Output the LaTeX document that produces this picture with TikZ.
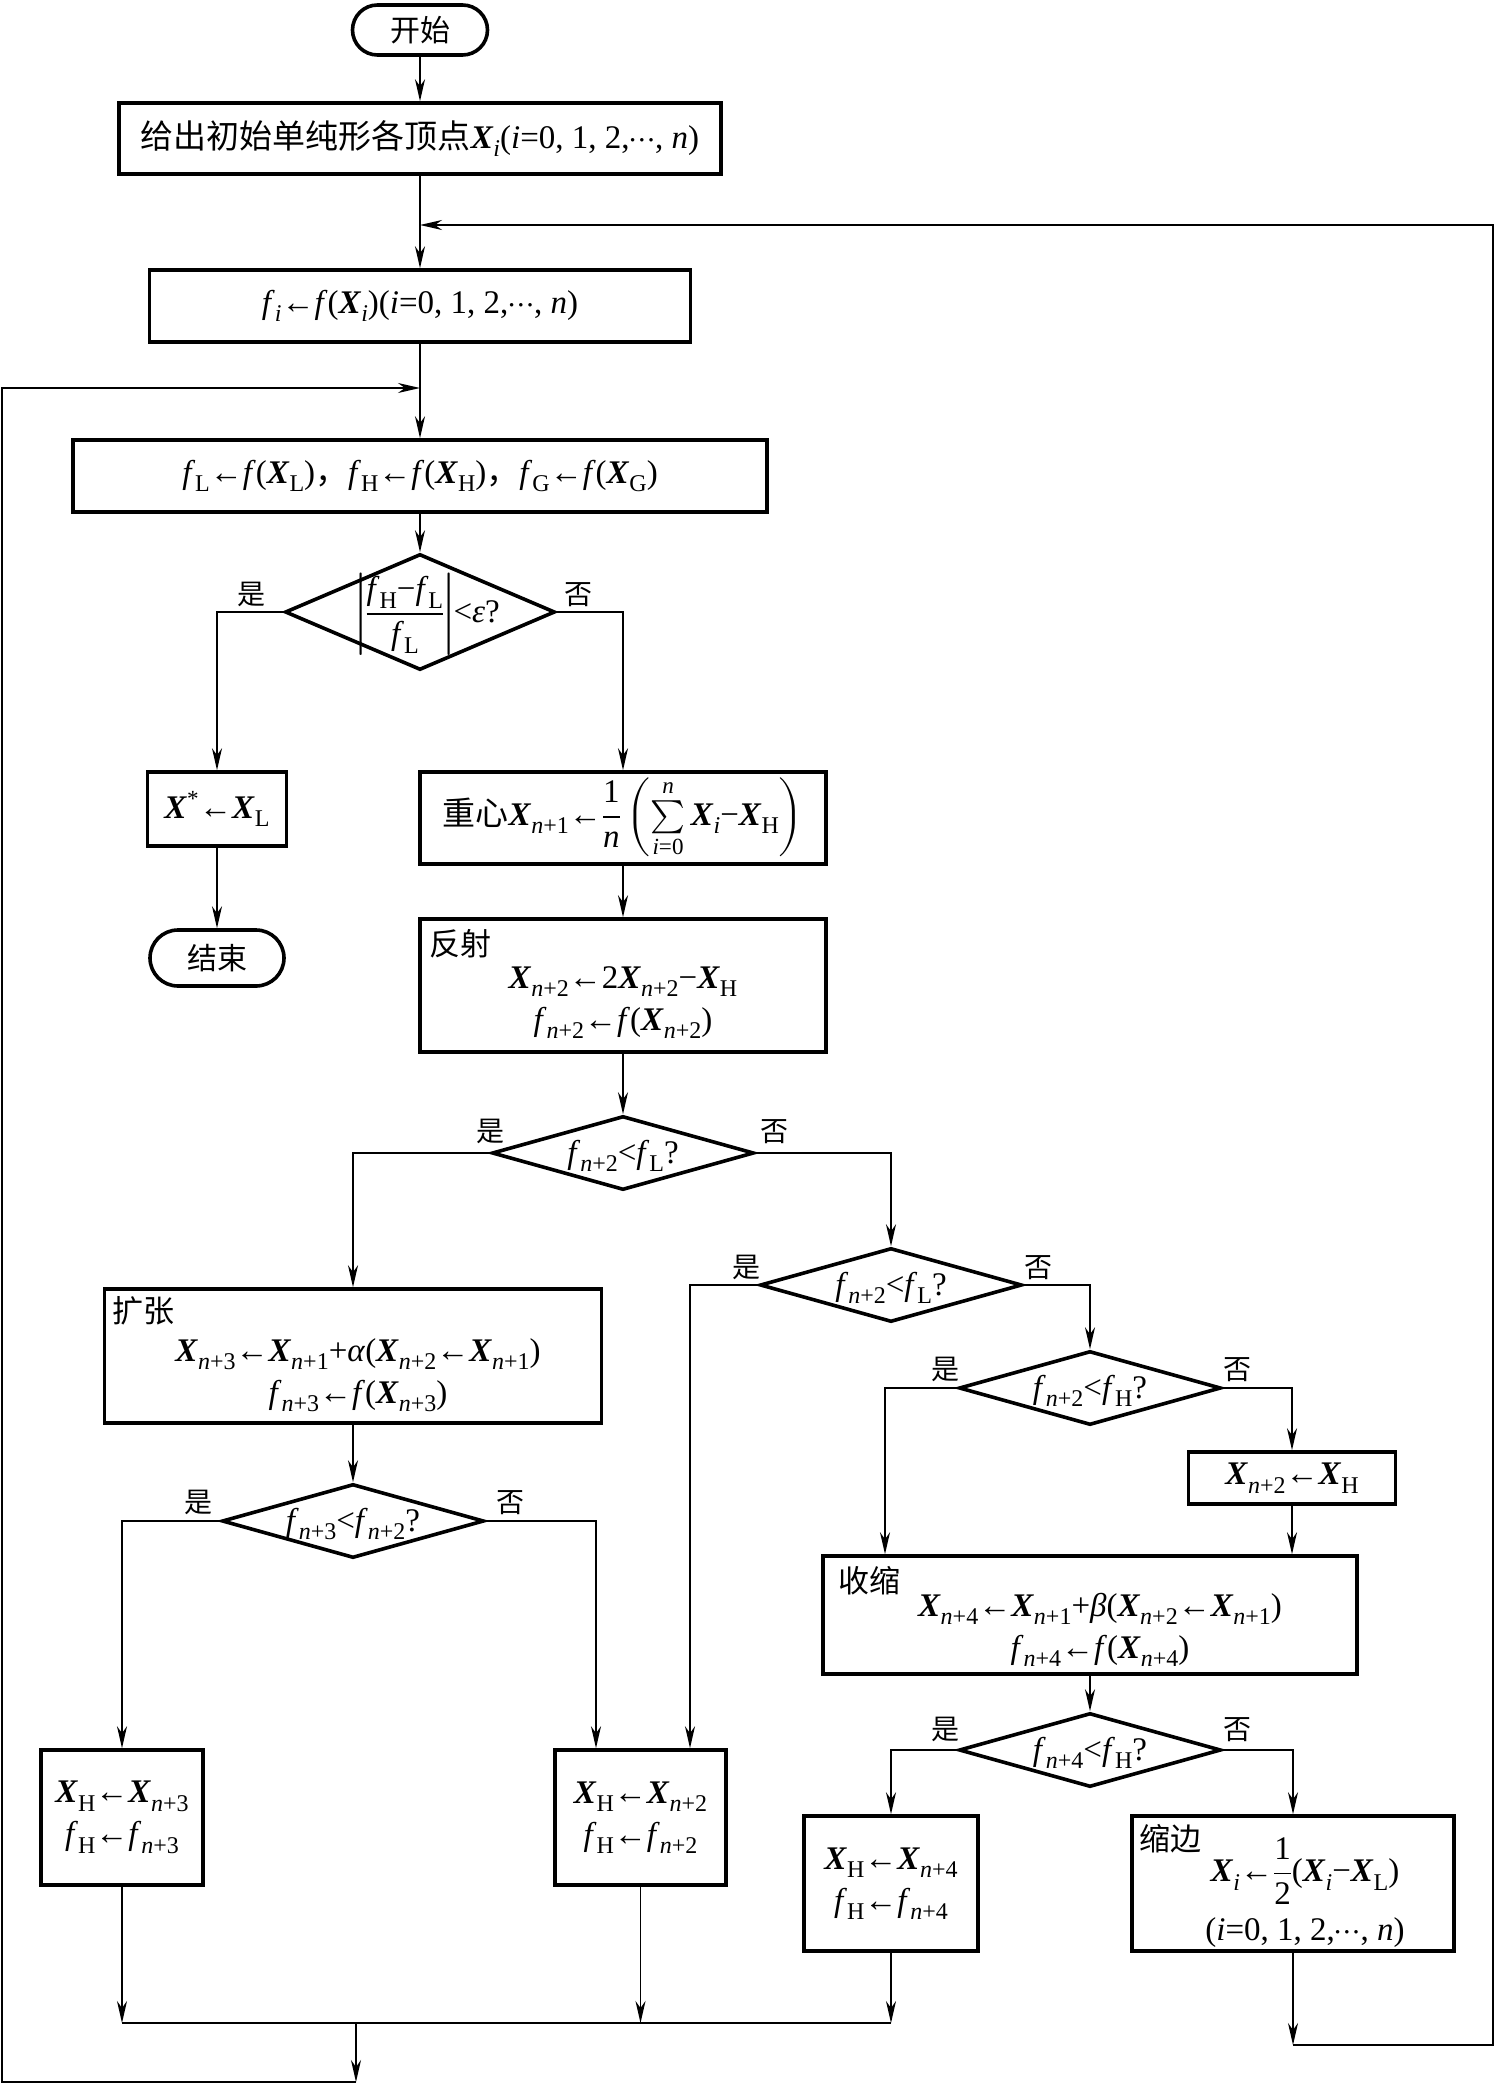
\documentclass[tikz,border=0pt]{standalone}
\usepackage{amsmath}
\usepackage{unicode-math}
\setmainfont{Liberation Serif}
\setmathfont{Latin Modern Math}
\newfontfamily\cjk{Noto Sans CJK SC}
\usetikzlibrary{arrows.meta,shapes.geometric,calc}
\newcommand{\Xb}{\textbf{\textit{X}}}
\newcommand{\vf}{\textit{f}}
\newcommand{\vi}{\textit{i}}
\newcommand{\vn}{\textit{n}}
\newcommand{\sbs}[1]{\raisebox{-0.26em}{\fontsize{24}{24}\selectfont #1}}
\newcommand{\np}[1]{\textit{n}+#1}
\newcommand{\la}{←}
\newcommand{\fs}{\fontsize{33}{42}\selectfont}
\begin{document}
\begin{tikzpicture}[x=1pt,y=-1pt,
  every node/.style={inner sep=0pt, font=\fs},
  box/.style={draw, line width=3.6pt},
  term/.style={draw, line width=3.6pt, rounded corners=25pt},
  dia/.style={draw, diamond, line width=3.6pt, minimum width=262pt, minimum height=74pt},
  lab/.style={font=\cjk\fontsize{28}{30}\selectfont},
  ttl/.style={font=\cjk\fontsize{31}{34}\selectfont, anchor=base west},
  ml/.style={align=center},
  line/.style={line width=1.8pt},
  conn/.style={line width=1.8pt, -{Stealth[length=22pt,width=10pt,inset=7pt]}}]
\useasboundingbox (0,0) rectangle (1494,2084);

% nodes
\node[term, minimum width=135pt, minimum height=50pt] (start) at (420,30) {\cjk\fontsize{30}{32}\selectfont 开始};
\node[box, minimum width=602pt, minimum height=71pt] (init) at (420,138.5)
  {{\cjk 给出初始单纯形各顶点}\Xb\sbs{\vi}(\vi=0, 1, 2,$\cdots$, \vn)};
\node[box, minimum width=541pt, minimum height=72pt] (fi) at (420,306)
  {\vf\sbs{\vi}\la\vf(\Xb\sbs{\vi})(\vi=0, 1, 2,$\cdots$, \vn)};
\node[box, minimum width=694pt, minimum height=72pt] (fl) at (420,476)
  {\vf\sbs{L}\la\vf(\Xb\sbs{L}){\cjk ，}\vf\sbs{H}\la\vf(\Xb\sbs{H}){\cjk ，}\vf\sbs{G}\la\vf(\Xb\sbs{G})};
\node[dia, minimum width=270pt, minimum height=116pt] (d1) at (420,612) {};
\node (d1t) at (428,614) {$\left|\dfrac{\text{\vf\sbs{H}−\vf\sbs{L}}}{\text{\vf\sbs{L}}}\right|$<\textit{ε}?};
\node[box, minimum width=139pt, minimum height=74pt] (xstar) at (217,809)
  {\Xb\textsuperscript{*}\la\Xb\sbs{L}};
\node[term, minimum width=134pt, minimum height=56pt, rounded corners=28pt] (stop) at (217,958)
  {\cjk\fontsize{30}{32}\selectfont 结束};
\node[box, minimum width=406pt, minimum height=92pt] (cen) at (623,818)
  {{\cjk 重心}\Xb\sbs{\np{1}}\la$\dfrac{\text{1}}{\text{\vn}}\left(\textstyle\sum\limits_{\text{\vi=0}}^{\text{\vn}}\text{\Xb\sbs{\vi}−\Xb\sbs{H}}\right)$};
\node[box, minimum width=406pt, minimum height=133pt] (refl) at (623,985.5) {};
\node[ttl] (reflt) at ($(refl.north west)+(11,38)$) {反射};
\node[ml] (reflf) at ($(refl.center)+(0,17)$)
  {\Xb\sbs{\np{2}}\la2\Xb\sbs{\np{2}}−\Xb\sbs{H}\\ \vf\sbs{\np{2}}\la\vf(\Xb\sbs{\np{2}})};
\node[dia] (d2) at (623,1153) {};
\node (d2t) at (623,1156) {\vf\sbs{\np{2}}<\vf\sbs{L}?};
\node[box, minimum width=497pt, minimum height=134pt] (expd) at (353,1356) {};
\node[ttl] (expdt) at ($(expd.north west)+(10,35)$) {扩张};
\node[ml] (expdf) at ($(expd.center)+(5,19)$)
  {\Xb\sbs{\np{3}}\la\Xb\sbs{\np{1}}+\textit{α}(\Xb\sbs{\np{2}}\la\Xb\sbs{\np{1}})\\ \vf\sbs{\np{3}}\la\vf(\Xb\sbs{\np{3}})};
\node[dia] (d6) at (353,1521) {};
\node (d6t) at (353,1524) {\vf\sbs{\np{3}}<\vf\sbs{\np{2}}?};
\node[dia] (d3) at (891,1285) {};
\node (d3t) at (891,1288) {\vf\sbs{\np{2}}<\vf\sbs{L}?};
\node[dia] (d4) at (1090,1388) {};
\node (d4t) at (1090,1391) {\vf\sbs{\np{2}}<\vf\sbs{H}?};
\node[box, minimum width=207pt, minimum height=52pt] (xh) at (1292,1478)
  {\Xb\sbs{\np{2}}\la\Xb\sbs{H}};
\node[box, minimum width=534pt, minimum height=118pt] (shr) at (1090,1615) {};
\node[ttl] (shrt) at ($(shr.north west)+(17,38)$) {收缩};
\node[ml] (shrf) at ($(shr.center)+(10,15)$)
  {\Xb\sbs{\np{4}}\la\Xb\sbs{\np{1}}+\textit{β}(\Xb\sbs{\np{2}}\la\Xb\sbs{\np{1}})\\ \vf\sbs{\np{4}}\la\vf(\Xb\sbs{\np{4}})};
\node[dia] (d5) at (1090,1750) {};
\node (d5t) at (1090,1753) {\vf\sbs{\np{4}}<\vf\sbs{H}?};
\node[box, minimum width=162pt, minimum height=135pt] (hn3) at (122,1817.5) {};
\node[ml] (hn3f) at (hn3.center) {\Xb\sbs{H}\la\Xb\sbs{\np{3}}\\ \vf\sbs{H}\la\vf\sbs{\np{3}}};
\node[box, minimum width=171pt, minimum height=135pt] (hn2) at (640.5,1817.5) {};
\node[ml] (hn2f) at (hn2.center) {\Xb\sbs{H}\la\Xb\sbs{\np{2}}\\ \vf\sbs{H}\la\vf\sbs{\np{2}}};
\node[box, minimum width=174pt, minimum height=135pt] (hn4) at (891,1883.5) {};
\node[ml] (hn4f) at (hn4.center) {\Xb\sbs{H}\la\Xb\sbs{\np{4}}\\ \vf\sbs{H}\la\vf\sbs{\np{4}}};
\node[box, minimum width=322pt, minimum height=135pt] (shk) at (1293,1883.5) {};
\node[ttl] (shkt) at ($(shk.north west)+(9,36)$) {缩边};
\node[ml] (shkf) at ($(shk.center)+(12,9)$)
  {\Xb\sbs{\vi}\la$\dfrac{\text{1}}{\text{2}}$(\Xb\sbs{\vi}−\Xb\sbs{L})\\[12pt] (\vi=0, 1, 2,$\cdots$, \vn)};

% yes / no labels
\node[lab, anchor=south east] (y1) at ($(d1.west)+(-18,-5)$) {是};
\node[lab, anchor=south west] (n1) at ($(d1.east)+(7,-5)$) {否};
\node[lab, anchor=south] (y2) at ($(d2.west)+(0,-9)$) {是};
\node[lab, anchor=south west] (n2) at ($(d2.east)+(4,-9)$) {否};
\node[lab, anchor=south east] (y3) at ($(d3.west)+(2,-5)$) {是};
\node[lab, anchor=south west] (n3) at ($(d3.east)+(0,-5)$) {否};
\node[lab, anchor=south east] (y4) at ($(d4.west)+(2,-6)$) {是};
\node[lab, anchor=south west] (n4) at ($(d4.east)+(0,-6)$) {否};
\node[lab, anchor=south east] (y5) at ($(d5.west)+(2,-8)$) {是};
\node[lab, anchor=south west] (n5) at ($(d5.east)+(0,-8)$) {否};
\node[lab, anchor=south east] (y6) at ($(d6.west)+(-8,-6)$) {是};
\node[lab, anchor=south west] (n6) at ($(d6.east)+(10,-6)$) {否};

% coordinates
\coordinate (j1) at (420,225);
\coordinate (j2) at (420,388);
\coordinate (p596) at (596,0);
\coordinate (p690) at (690,0);
\coordinate (p885) at (885,0);
\coordinate (mL) at (122,2023);
\coordinate (mR) at (891,2023);
\coordinate (mD) at (356,2023);
\coordinate (bot) at (356,2082);
\coordinate (bl) at (2,2082);
\coordinate (tl) at (2,388);
\coordinate (rb) at (1293,2045);
\coordinate (rr) at (1493,2045);
\coordinate (rt) at (1493,225);

% connectors
\draw[conn] (start.south) -- (init.north);
\draw[conn] (init.south) -- (fi.north);
\draw[conn] (fi.south) -- (fl.north);
\draw[conn] (fl.south) -- (d1.north);
\draw[conn] (d1.west) -| (xstar.north);
\draw[conn] (xstar.south) -- (stop.north);
\draw[conn] (d1.east) -| (cen.north);
\draw[conn] (cen.south) -- (refl.north);
\draw[conn] (refl.south) -- (d2.north);
\draw[conn] (d2.west) -| (expd.north);
\draw[conn] (d2.east) -| (d3.north);
\draw[conn] (expd.south) -- (d6.north);
\draw[conn] (d6.west) -| (hn3.north);
\draw[conn] (d6.east) -| (p596 |- hn2.north);
\draw[conn] (d3.west) -| (p690 |- hn2.north);
\draw[conn] (d3.east) -| (d4.north);
\draw[conn] (d4.west) -| (p885 |- shr.north);
\draw[conn] (d4.east) -| (xh.north);
\draw[conn] (xh.south) -- (xh.south |- shr.north);
\draw[conn] (shr.south) -- (d5.north);
\draw[conn] (d5.west) -| (hn4.north);
\draw[conn] (d5.east) -| (shk.north);
\draw[conn] (hn3.south) -- (hn3.south |- mL);
\draw[conn] (hn2.south) -- (hn2.south |- mL);
\draw[conn] (hn4.south) -- (hn4.south |- mL);
\draw[line] (mL) -- (mR);
\draw[conn] (mD) -- (bot);
\draw[conn] (bot) -- (bl) -- (tl) -- (j2);
\draw[conn] (shk.south) -- (rb);
\draw[conn] (rb) -- (rr) -- (rt) -- (j1);
\end{tikzpicture}
\end{document}
